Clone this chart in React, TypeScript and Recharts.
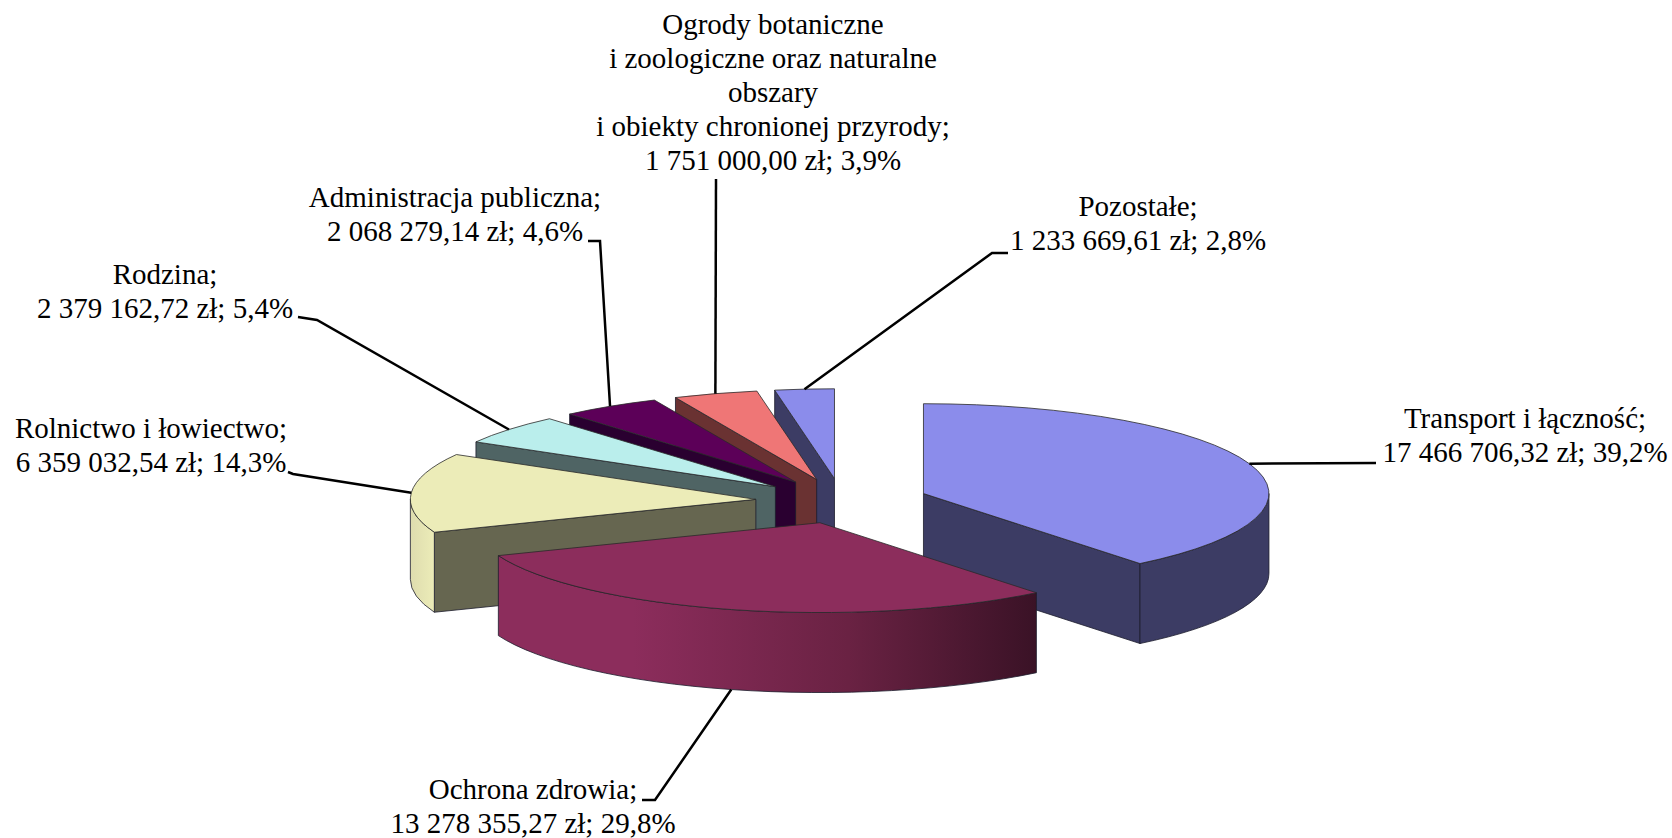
import React from "react";
import { PieChart, Pie } from "recharts";

// order is the drawing order: going anticlockwise from Transport, Ochrona zdrowia ends on top
const categories = [
  ["Transport i łączność;"],
  ["Pozostałe;"],
  ["Ogrody botaniczne", "i zoologiczne oraz naturalne", "obszary", "i obiekty chronionej przyrody;"],
  ["Administracja publiczna;"],
  ["Rodzina;"],
  ["Rolnictwo i łowiectwo;"],
  ["Ochrona zdrowia;"],
];
const values = [17466706.32, 1233669.61, 1751000.0, 2068279.14, 2379162.72, 6359032.54, 13278355.27];
const percents = ["39,2%", "2,8%", "3,9%", "4,6%", "5,4%", "14,3%", "29,8%"];

const topColors = ["#8b8ceb", "#8b8ceb", "#ef7676", "#5c0058", "#baeeec", "#ececb8", "#8c2d5c"];
const cutColors = ["#3c3c64", "#3c3c64", "#6a3232", "#2a0030", "#4f6464", "#666650", "#5a1d3a"];
const wallColors = ["#3c3c64", "#3c3c64", "#6a3232", "#2a0030", "#4f6464", "url(#wallYellow)", "url(#wallRed)"];

// label block: centre x, first baseline; leader: elbow points after the slice edge
const labelX = [1525, 1138, 773, 455, 165, 151, 533];
const labelY = [428, 216, 34, 207, 284, 438, 799];
const leaders = [
  [[1376, 463]],
  [[992, 253], [1008, 253]],
  [[716, 179]],
  [[600, 241], [588, 241]],
  [[317, 320], [298, 317]],
  [[293, 474], [288, 472]],
  [[655, 800], [642, 800]],
];

const total = values.reduce((a, b) => a + b, 0);
const data = values.map((value, i) => ({ name: categories[i].join(" "), value, fill: topColors[i] }));

const WIDTH = 1672;
const HEIGHT = 838;
const CX = 842;
const CY = 501;
const RADIUS = 345.5;
const TILT = 0.26;
const DEPTH = 80;
const EXPLODE = 0.25;
const LINE_HEIGHT = 34;

// Transport starts at 12 o'clock and runs clockwise
const startAngle = 90 - (values[0] / total) * 360;
const endAngle = startAngle + 360;

const rad = (a: number) => (a * Math.PI) / 180;

const formatMoney = (v: number) => {
  const [whole, dec] = v.toFixed(2).split(".");
  return whole.replace(/\B(?=(\d{3})+$)/g, " ") + "," + dec + " zł";
};

// slice apex after it is pulled out along its middle angle
const apex = (cx: number, cy: number, r: number, mid: number) => ({
  x: cx + EXPLODE * r * Math.cos(rad(mid)),
  y: cy - EXPLODE * r * TILT * Math.sin(rad(mid)),
});
const rim = (c: { x: number; y: number }, r: number, a: number) => ({
  x: c.x + r * Math.cos(rad(a)),
  y: c.y - r * TILT * Math.sin(rad(a)),
});

const Slice3D = (props: any) => {
  const { cx, cy, outerRadius: r, startAngle: a, endAngle: b, index } = props;
  const c = apex(cx, cy, r, (a + b) / 2);
  const p1 = rim(c, r, a);
  const p2 = rim(c, r, b);
  const ry = r * TILT;
  const large = b - a > 180 ? 1 : 0;
  const top = `M${c.x},${c.y} L${p1.x},${p1.y} A${r},${ry} 0 ${large} 0 ${p2.x},${p2.y} Z`;

  const cut = (p: { x: number; y: number }) =>
    `M${c.x},${c.y} L${p.x},${p.y} L${p.x},${p.y + DEPTH} L${c.x},${c.y + DEPTH} Z`;

  // lower half of the rim is the only part of the curved wall that shows
  let wall = null;
  for (const k of [-360, 0, 360]) {
    const from = Math.max(a, 180 + k);
    const to = Math.min(b, 360 + k);
    if (to > from) {
      const w1 = rim(c, r, from);
      const w2 = rim(c, r, to);
      wall = `M${w1.x},${w1.y} A${r},${ry} 0 0 0 ${w2.x},${w2.y} L${w2.x},${w2.y + DEPTH} A${r},${ry} 0 0 1 ${w1.x},${w1.y + DEPTH} Z`;
    }
  }

  return (
    <g>
      {Math.cos(rad(a)) > 0.001 && <path d={cut(p1)} fill={cutColors[index]} stroke="#1c1c2c" strokeWidth={0.8} />}
      {Math.cos(rad(b)) < -0.001 && <path d={cut(p2)} fill={cutColors[index]} stroke="#1c1c2c" strokeWidth={0.8} />}
      {wall && <path d={wall} fill={wallColors[index]} stroke="#1c1c2c" strokeWidth={0.8} />}
      <path d={top} fill={topColors[index]} stroke="#2a2a2a" strokeWidth={0.8} />
    </g>
  );
};

const SliceLabel = (props: any) => {
  const { cx, cy, outerRadius: r, midAngle, index } = props;
  const c = apex(cx, cy, r, midAngle);
  const s = rim(c, r, midAngle);
  // front slice: the leader leaves from the bottom of the wall
  const sy = Math.sin(rad(midAngle)) < -0.5 ? s.y + DEPTH : s.y;
  const points = [[s.x, sy], ...leaders[index]].map((p) => p.join(",")).join(" ");
  const lines = [...categories[index], `${formatMoney(values[index])}; ${percents[index]}`];
  return (
    <g>
      <polyline points={points} fill="none" stroke="#000" strokeWidth={2.5} />
      <text
        x={labelX[index]}
        y={labelY[index]}
        textAnchor="middle"
        fontFamily="'Liberation Serif', serif"
        fontSize={29}
        fill="#000"
      >
        {lines.map((line, i) => (
          <tspan key={i} x={labelX[index]} dy={i === 0 ? 0 : LINE_HEIGHT}>
            {line}
          </tspan>
        ))}
      </text>
    </g>
  );
};

export default function App() {
  return (
    <div style={{ position: "absolute", left: 0, top: 0, width: WIDTH, height: HEIGHT }}>
      <PieChart width={WIDTH} height={HEIGHT} margin={{ top: 0, right: 0, bottom: 0, left: 0 }}>
        <defs>
          <linearGradient id="wallRed" x1="0" y1="0" x2="1" y2="0">
            <stop offset="0" stopColor="#8c2d5c" />
            <stop offset="0.25" stopColor="#8c2d5c" />
            <stop offset="0.65" stopColor="#6a2243" />
            <stop offset="1" stopColor="#3a1226" />
          </linearGradient>
          <linearGradient id="wallYellow" x1="0" y1="0" x2="1" y2="0">
            <stop offset="0" stopColor="#dedcae" />
            <stop offset="1" stopColor="#ececb8" />
          </linearGradient>
        </defs>
        <Pie
          data={data}
          dataKey="value"
          nameKey="name"
          cx={CX}
          cy={CY}
          innerRadius={0}
          outerRadius={RADIUS}
          startAngle={startAngle}
          endAngle={endAngle}
          shape={Slice3D}
          label={SliceLabel}
          labelLine={false}
          isAnimationActive={false}
        />
      </PieChart>
    </div>
  );
}
